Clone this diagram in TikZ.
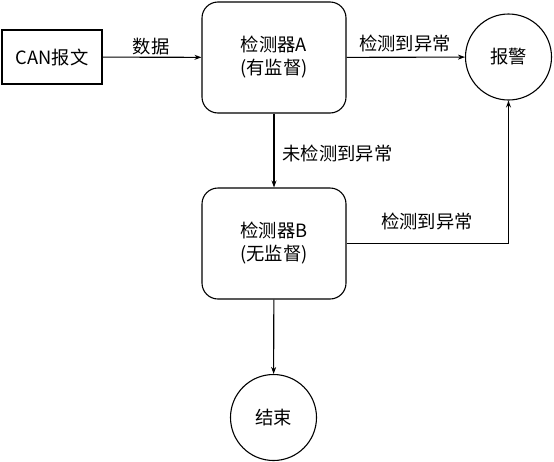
\documentclass[tikz,border=0pt]{standalone}
\usepackage{fontspec}
\setmainfont{Noto Sans CJK SC}
\usetikzlibrary{arrows.meta}
\def\boxw{144pt}
\def\boxh{111pt}

\begin{document}
\begin{tikzpicture}[x=1pt,y=-1pt,
	line width=1.1pt,-{Stealth[length=7pt,width=5pt]},draw=black,
	font=\fontsize{18.3}{23}\selectfont]
	\tikzstyle{block}=[draw,rectangle,inner sep=0pt,align=center]
	\tikzstyle{input block}=[block,minimum width=100pt,minimum height=54pt]
	\tikzstyle{detector}=[block,rounded corners=16pt,minimum width=\boxw,minimum height=\boxh]
	\tikzstyle{terminal}=[draw,circle,minimum size=86pt,inner sep=0pt]
	\tikzstyle{annot}=[inner sep=0pt]
	\useasboundingbox (0,0) rectangle (554,461);

	% Draw nodes
	\node[input block] (CAN) at (52,57) {CAN报文};
	\node[detector] (DA) at (274,57.5) {检测器A\\(有监督)};
	\node[detector] (DB) at (274,243.5) {检测器B\\(无监督)};
	\node[terminal] (Alarm) at (508.5,57) {报警};
	\node[terminal] (End) at (273.5,417.5) {结束};
	\coordinate (Turn) at (Alarm.south |- DB.east);

	% Connect nodes
	\draw (CAN) -- (DA);
	\draw (DA) -- (Alarm);
	\draw (DA) -- (DB);
	\draw (DB) -- (End);
	\draw (DB.east) -- (Turn) -- (Alarm.south);

	% Annotate
	\node[annot] at (151,47) {数据};
	\node[annot] at (405,44) {检测到异常};
	\node[annot,anchor=west] at (282,154) {未检测到异常};
	\node[annot] at (427,222) {检测到异常};
\end{tikzpicture}
\end{document}
